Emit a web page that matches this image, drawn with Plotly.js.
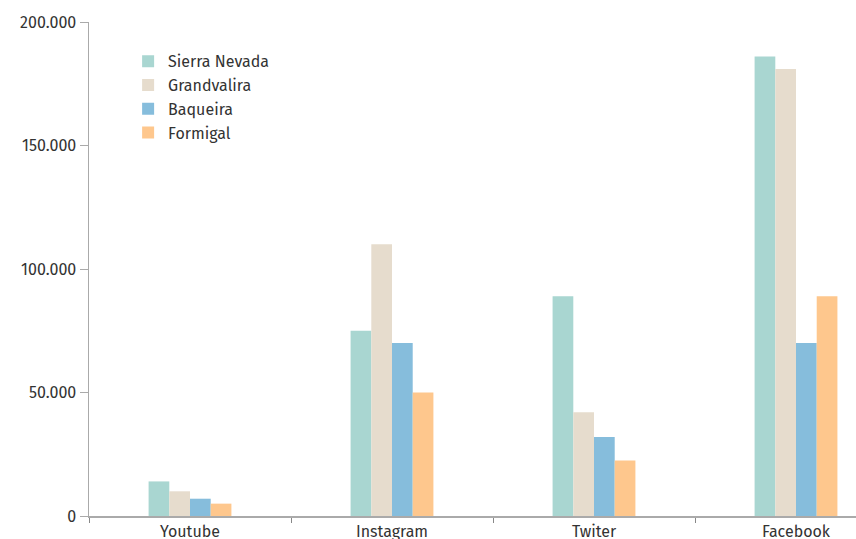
<!DOCTYPE html>
<html>
<head>
<meta charset="utf-8">
<script src="https://cdn.plot.ly/plotly-3.0.1.min.js"></script>
<style>html,body{margin:0;padding:0;background:#fff;overflow:hidden}#chart{width:856px;height:539px}</style>
</head>
<body>
<div id="chart"></div>
<script>
var categories = ["Youtube", "Instagram", "Twiter", "Facebook"];
var seriesNames = ["Sierra Nevada", "Grandvalira", "Baqueira", "Formigal"];
var sierraNevada = [14000, 75000, 89000, 186000];
var grandvalira = [10000, 110000, 42000, 181000];
var baqueira = [7000, 70000, 32000, 70000];
var formigal = [5000, 50000, 22500, 89000];
var colors = ["#a9d6d1", "#e6dccd", "#86bddc", "#fec78d"];
var yTicks = [0, 50000, 100000, 150000, 200000];

var allSeries = [sierraNevada, grandvalira, baqueira, formigal];
var traces = allSeries.map(function (vals, i) {
  return {
    type: "bar",
    name: seriesNames[i],
    x: categories,
    y: vals,
    marker: {color: colors[i], line: {width: 0}},
    hoverinfo: "skip"
  };
});

var font = {family: "'Fira Sans', 'Noto Sans', sans-serif", size: 16, color: "#333333"};
var layout = {
  width: 856,
  height: 539,
  margin: {l: 89, r: 0, t: 22, b: 23, pad: 0},
  paper_bgcolor: "#ffffff",
  plot_bgcolor: "#ffffff",
  font: font,
  separators: ",.",
  barmode: "group",
  bargap: 0.59,
  bargroupgap: 0,
  showlegend: true,
  legend: {
    x: 0.051, y: 0.955, xanchor: "left", yanchor: "top",
    bgcolor: "rgba(0,0,0,0)", font: font, tracegroupgap: 0,
    traceorder: "normal"
  },
  xaxis: {
    type: "category",
    range: [-0.5, 3.297],
    showline: true, linecolor: "#aaaaaa", linewidth: 1.5,
    ticks: "outside", tickson: "boundaries", ticklen: 5, tickcolor: "#888888",
    showgrid: false, zeroline: false,
    tickfont: font, fixedrange: true
  },
  yaxis: {
    range: [0, 200000],
    tickvals: yTicks,
    tickformat: ",d",
    showline: true, linecolor: "#aaaaaa", linewidth: 1.5,
    ticks: "outside", ticklen: 8, tickcolor: "#aaaaaa",
    showgrid: false, zeroline: false,
    tickfont: font, fixedrange: true
  }
};
Plotly.newPlot("chart", traces, layout, {displayModeBar: false, staticPlot: true});
</script>
</body>
</html>
